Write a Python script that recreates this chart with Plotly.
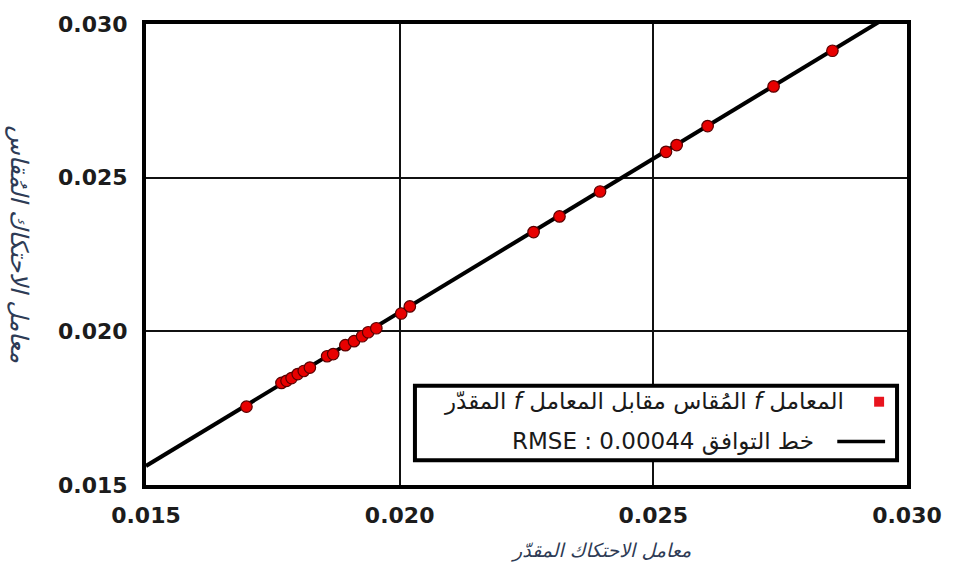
import plotly.graph_objects as go

# Estimated vs. measured friction factor
f_estimated = [0.01698, 0.01767, 0.01777, 0.01787, 0.01799, 0.01811, 0.01823,
               0.01857, 0.01869, 0.01893, 0.01910, 0.01926, 0.01938, 0.01954,
               0.02003, 0.02020, 0.02264, 0.02315, 0.02395, 0.02525, 0.02546,
               0.02607, 0.02737, 0.02853]
f_measured = [0.01755, 0.01832, 0.01839, 0.01848, 0.01861, 0.01871, 0.01882,
              0.01919, 0.01926, 0.01955, 0.01968, 0.01984, 0.01997, 0.02010,
              0.02058, 0.02081, 0.02323, 0.02374, 0.02455, 0.02584, 0.02606,
              0.02668, 0.02797, 0.02913]

# Fitted line y = slope * x + intercept
fit_slope = 1.0
fit_intercept = 0.00062
fit_x = [0.015, 0.030]
fit_y = [fit_slope * v + fit_intercept for v in fit_x]

axis_ticks = [0.015, 0.020, 0.025, 0.030]
tick_text = ["0.015", "0.020", "0.025", "0.030"]

x_title = "معامل الاحتكاك المقدّر"
y_title = "معامل الاحتكاك المُقاس"
legend_points = "\u202bالمعامل <i>f</i> المُقاس مقابل المعامل <i>f</i> المقدّر\u202c"
legend_fit = "\u202bخط التوافق RMSE : 0.00044\u202c"

W, H = 954, 568
L, R, T, B = 146, 910, 20, 485


def px(x):
    return (x - L) / (R - L)


def py(y):
    return (B - y) / (B - T)


fig = go.Figure()
fig.add_trace(go.Scatter(
    x=fit_x, y=fit_y, mode="lines",
    line=dict(color="black", width=4), showlegend=False, hoverinfo="skip"))
fig.add_trace(go.Scatter(
    x=f_estimated, y=f_measured, mode="markers",
    marker=dict(color="#e80000", size=11.5, line=dict(color="#5a0000", width=1.2)),
    showlegend=False))

tick_font = dict(family="DejaVu Sans", size=22, color="#1c1c1c", weight="bold")
axis_common = dict(
    range=[0.015, 0.030], tickvals=axis_ticks, ticktext=tick_text,
    showgrid=True, gridcolor="#111111", gridwidth=1.5,
    showline=True, linecolor="black", linewidth=4, mirror=True,
    zeroline=False, ticks="", tickfont=tick_font,
)
fig.update_xaxes(**axis_common, ticklabelstandoff=8)
fig.update_yaxes(**axis_common, ticklabelstandoff=10)

x_title_font = dict(family="DejaVu Sans", size=19, color="#2e3b55", style="italic")
y_title_font = dict(family="DejaVu Sans", size=24, color="#2e3b55", style="italic")
legend_font = dict(family="DejaVu Sans", size=23, color="#1a1a1a")

annotations = [
    dict(text=x_title, x=px(603), y=py(551), xref="paper", yref="paper",
         showarrow=False, font=x_title_font, xanchor="center", yanchor="middle"),
    dict(text=y_title, x=px(18), y=py(242), xref="paper", yref="paper",
         showarrow=False, font=y_title_font, textangle=90,
         xanchor="center", yanchor="middle"),
    dict(text=legend_points, x=px(849), y=py(401), xref="paper", yref="paper",
         showarrow=False, font=legend_font, xanchor="right", yanchor="middle"),
    dict(text=legend_fit, x=px(819), y=py(441), xref="paper", yref="paper",
         showarrow=False, font=legend_font, xanchor="right", yanchor="middle"),
]

shapes = [
    # legend box
    dict(type="rect", xref="paper", yref="paper", layer="above",
         x0=px(416), x1=px(900), y0=py(460), y1=py(385),
         line=dict(color="black", width=4), fillcolor="white"),
    # legend key: measured points
    dict(type="rect", xref="paper", yref="paper", layer="above",
         x0=px(877), x1=px(887), y0=py(406), y1=py(396),
         line=dict(width=0), fillcolor="#e8141e"),
    # legend key: fitted line
    dict(type="line", xref="paper", yref="paper", layer="above",
         x0=px(840), x1=px(888), y0=py(441), y1=py(441),
         line=dict(color="black", width=3.5)),
]

fig.update_layout(
    width=W, height=H,
    margin=dict(l=L, r=W - R, t=T, b=H - B),
    paper_bgcolor="white", plot_bgcolor="white",
    showlegend=False,
    annotations=annotations, shapes=shapes,
)

fig.write_html("out.html")
